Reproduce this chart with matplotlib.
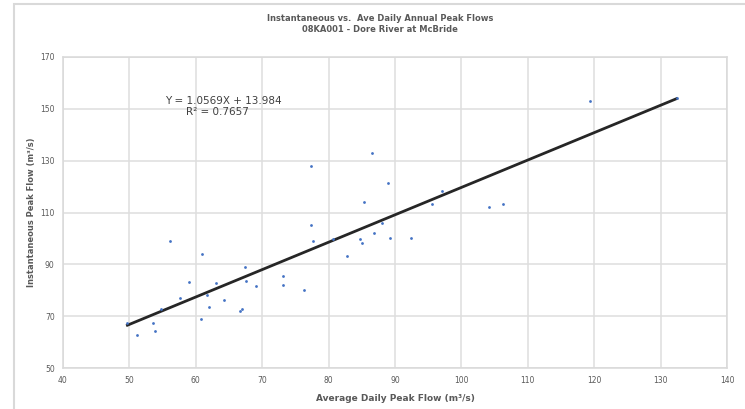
import numpy as np
import matplotlib
matplotlib.use("Agg")
import matplotlib.pyplot as plt
from matplotlib.patches import Rectangle

# Average daily peak flow (x) vs instantaneous peak flow (y), m3/s
avg_daily = [49.7, 51.2, 53.6, 53.9, 54.7, 56.1, 57.6, 59.0, 60.9, 60.8,
             61.7, 62.0, 63.1, 64.2, 66.7, 67.0, 67.4, 67.5, 69.0, 73.1,
             73.1, 76.3, 77.3, 77.6, 77.3, 80.6, 82.7, 84.7, 85.1, 86.8,
             85.4, 86.6, 88.1, 89.0, 89.3, 92.4, 95.5, 97.1, 104.2, 106.2,
             119.4, 132.4]
inst_peak = [67.5, 62.7, 67.5, 64.3, 72.7, 99.0, 76.9, 83.3, 94.0, 68.9,
             78.0, 73.7, 82.9, 76.1, 72.0, 72.8, 88.9, 83.6, 81.8, 85.6,
             82.0, 80.1, 105.1, 99.1, 128.1, 99.9, 93.2, 99.7, 98.1, 102.0,
             114.1, 133.0, 105.8, 121.2, 100.1, 100.1, 113.1, 118.2, 112.0, 113.1,
             153.2, 154.1]

slope = 1.0569
intercept = 13.984
r2 = 0.7657

x_ticks = [40, 50, 60, 70, 80, 90, 100, 110, 120, 130, 140]
y_ticks = [50, 70, 90, 110, 130, 150, 170]

fig = plt.figure(figsize=(7.45, 4.09), dpi=100)
fig.patches.append(Rectangle((14 / 745, -0.05), 1.1, 1.05 - 4 / 409,
                             transform=fig.transFigure, fill=False,
                             edgecolor="#d9d9d9", linewidth=1.5))

ax = fig.add_axes([63 / 745, 1 - 368 / 409, (727 - 63) / 745, (368 - 57) / 409])
ax.set_xlim(40, 140)
ax.set_ylim(50, 170)
ax.set_xticks(x_ticks)
ax.set_yticks(y_ticks)
ax.grid(True, color="#dedede", linewidth=1.1)
ax.set_axisbelow(True)
for s in ax.spines.values():
    s.set_color("#d9d9d9")
    s.set_linewidth(1.1)
ax.tick_params(length=0, labelsize=5.5, colors="#595959", pad=6)

ax.scatter(avg_daily, inst_peak, s=4, color="#4472c4", zorder=3, linewidths=0)

xs = np.array([min(avg_daily), max(avg_daily)])
ax.plot(xs, slope * xs + intercept, color="#262626", linewidth=2, zorder=2)

ax.text(0.241, 0.86, "Y = %.4fX + %.3f" % (slope, intercept), transform=ax.transAxes,
        ha="center", va="center", fontsize=7.5, color="#404040")
ax.text(0.232, 0.824, "R² = %.4f" % r2, transform=ax.transAxes,
        ha="center", va="center", fontsize=7.5, color="#404040")

fig.text(0.51, 0.965, "Instantaneous vs.  Ave Daily Annual Peak Flows\n08KA001 - Dore River at McBride",
         ha="center", va="top", fontsize=6, fontweight="bold", color="#595959",
         linespacing=1.3)
ax.set_xlabel("Average Daily Peak Flow (m³/s)", fontsize=6.5, fontweight="bold",
              color="#595959", labelpad=6)
ax.set_ylabel("Instantaneous Peak Flow (m³/s)", fontsize=6, fontweight="bold",
              color="#595959", labelpad=3)

fig.savefig("out.png", dpi=100)
